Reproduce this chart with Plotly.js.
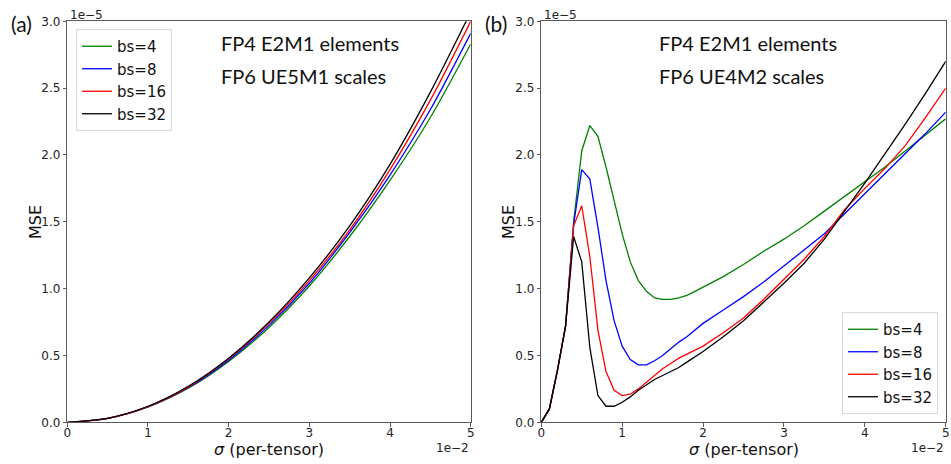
<!DOCTYPE html>
<html><head><meta charset="utf-8">
<script src="https://cdn.plot.ly/plotly-3.0.1.min.js"></script>
<style>html,body{margin:0;padding:0;background:#fff}#chart{width:951px;height:464px}</style>
</head><body><div id="chart"></div>
<script>
// sigma in units of 1e-2, MSE in units of 1e-5
const seriesNames = ['bs=4', 'bs=8', 'bs=16', 'bs=32'];
const seriesColors = ['#008000', '#0000ff', '#ff0000', '#000000'];

// Panel (a): FP6 UE5M1 scales
const sigmaA = [0, 0.5, 1, 1.5, 2, 2.5, 3, 3.5, 4, 4.5, 5];
const mseA_bs4  = [0, 0.03, 0.115, 0.255, 0.455, 0.71, 1.02, 1.39, 1.81, 2.28, 2.83];
const mseA_bs8  = [0, 0.03, 0.116, 0.26, 0.465, 0.725, 1.04, 1.42, 1.85, 2.34, 2.91];
const mseA_bs16 = [0, 0.03, 0.118, 0.265, 0.475, 0.74, 1.06, 1.44, 1.89, 2.41, 3.00];
const mseA_bs32 = [0, 0.03, 0.12, 0.27, 0.48, 0.75, 1.08, 1.47, 1.93, 2.47, 3.07];

// Panel (b): FP6 UE4M2 scales
const sigmaB = [0,0.1,0.2,0.3,0.4,0.5,0.6,0.7,0.8,0.9,1.0,1.1,1.2,1.3,1.4,1.5,1.6,1.7,1.8,1.9,2.0,2.25,2.5,2.75,3.0,3.25,3.5,3.75,4.0,4.25,4.5,4.75,5.0];
const mseB_bs4  = [0,0.10,0.39,0.72,1.50,2.03,2.22,2.14,1.91,1.66,1.41,1.20,1.06,0.98,0.93,0.92,0.92,0.93,0.95,0.98,1.01,1.09,1.18,1.28,1.37,1.47,1.58,1.69,1.80,1.91,2.03,2.15,2.27];
const mseB_bs8  = [0,0.10,0.39,0.72,1.48,1.89,1.82,1.46,1.06,0.76,0.57,0.47,0.43,0.43,0.46,0.50,0.55,0.60,0.64,0.69,0.74,0.84,0.94,1.05,1.17,1.29,1.41,1.56,1.71,1.86,2.01,2.16,2.32];
const mseB_bs16 = [0,0.10,0.39,0.72,1.47,1.62,1.24,0.69,0.38,0.24,0.20,0.21,0.25,0.30,0.35,0.40,0.44,0.48,0.51,0.54,0.57,0.67,0.78,0.92,1.07,1.22,1.39,1.59,1.75,1.90,2.07,2.28,2.50];
const mseB_bs32 = [0,0.10,0.39,0.72,1.39,1.20,0.56,0.20,0.12,0.12,0.15,0.19,0.24,0.28,0.32,0.35,0.38,0.41,0.45,0.49,0.53,0.64,0.76,0.90,1.04,1.19,1.37,1.58,1.79,2.01,2.23,2.46,2.70];

const xTickVals = [0,1,2,3,4,5];
const yTickVals = [0,0.5,1,1.5,2,2.5,3];

const A = [mseA_bs4, mseA_bs8, mseA_bs16, mseA_bs32];
const B = [mseB_bs4, mseB_bs8, mseB_bs16, mseB_bs32];
const traces = [];
A.forEach((ys, i) => traces.push({
  x: sigmaA, y: ys, type: 'scatter', mode: 'lines', name: seriesNames[i],
  line: {color: seriesColors[i], width: 1.3, shape: 'spline', smoothing: 0.8},
  xaxis: 'x', yaxis: 'y', legend: 'legend'
}));
B.forEach((ys, i) => traces.push({
  x: sigmaB, y: ys, type: 'scatter', mode: 'lines', name: seriesNames[i],
  line: {color: seriesColors[i], width: 1.3},
  xaxis: 'x2', yaxis: 'y2', legend: 'legend2'
}));

const FONT = "'DejaVu Sans', sans-serif";
const TXT = "Lato, 'Open Sans', sans-serif";
const yDom = [1 - 422.3/464, 1 - 21.3/464];
function xax(dom, anchor) {
  return {domain: dom, anchor: anchor, range: [0, 5], tickvals: xTickVals, ticktext: xTickVals.map(String),
    showgrid: false, zeroline: false, showline: true, mirror: true, linecolor: '#5a5a5a', linewidth: 1,
    ticks: 'outside', ticklen: 3.5, tickcolor: '#5a5a5a', ticklabelstandoff: -4,
    tickfont: {family: FONT, size: 12, color: '#222'}};
}
function yax(dom, anchor) {
  return {domain: dom, anchor: anchor, range: [0, 3], tickvals: yTickVals, tickformat: '.1f',
    showgrid: false, zeroline: false, showline: true, mirror: true, linecolor: '#5a5a5a', linewidth: 1,
    ticks: 'outside', ticklen: 3.5, tickcolor: '#5a5a5a', tickfont: {family: FONT, size: 12, color: '#222'}};
}
const xa = [67.3/951, 470.7/951], xb = [541.3/951, 945.7/951];
function ann(text, px, py, opts) {
  return Object.assign({text: text, x: px/951, y: 1 - py/464, xref: 'paper', yref: 'paper',
    xanchor: 'center', yanchor: 'middle', showarrow: false}, opts);
}
const layout = {
  width: 951, height: 464, margin: {l: 0, r: 0, t: 0, b: 0},
  paper_bgcolor: '#fff', plot_bgcolor: '#fff', showlegend: true,
  xaxis: xax(xa, 'y'), yaxis: yax(yDom, 'x'),
  xaxis2: xax(xb, 'y2'), yaxis2: yax(yDom, 'x2'),
  legend: {x: 76/951, y: 1 - 29/464, xanchor: 'left', yanchor: 'top', bgcolor: '#fff',
    bordercolor: '#d8d8d8', borderwidth: 1, font: {family: FONT, size: 15, color: '#111'}, tracegroupgap: 0},
  legend2: {x: 938/951, y: 1 - 414/464, xanchor: 'right', yanchor: 'bottom', bgcolor: '#fff',
    bordercolor: '#d8d8d8', borderwidth: 1, font: {family: FONT, size: 15, color: '#111'}, tracegroupgap: 0},
  annotations: [
    ann('(a)', 21, 24, {font: {family: TXT, size: 21, color: '#111'}}),
    ann('(b)', 496, 24, {font: {family: TXT, size: 21, color: '#111'}}),
    ann('FP4 E2M1 elements', 219, 43, {xanchor: 'left', font: {family: TXT, size: 20, color: '#111'}}),
    ann('FP6 UE5M1 scales', 219, 76, {xanchor: 'left', font: {family: TXT, size: 20, color: '#111'}}),
    ann('FP4 E2M1 elements', 657, 43, {xanchor: 'left', font: {family: TXT, size: 20, color: '#111'}}),
    ann('FP6 UE4M2 scales', 657, 76, {xanchor: 'left', font: {family: TXT, size: 20, color: '#111'}}),
    ann('<i>σ</i> (per-tensor)', 269, 449, {font: {family: FONT, size: 16, color: '#111'}}),
    ann('<i>σ</i> (per-tensor)', 743.5, 449, {font: {family: FONT, size: 16, color: '#111'}}),
    ann('MSE', 35, 222, {textangle: -90, font: {family: FONT, size: 16, color: '#111'}}),
    ann('MSE', 508, 222, {textangle: -90, font: {family: FONT, size: 16, color: '#111'}}),
    ann('1e\u22125', 67.5, 15, {xanchor: 'left', font: {family: FONT, size: 12, color: '#222'}}),
    ann('1e\u22125', 541.5, 15, {xanchor: 'left', font: {family: FONT, size: 12, color: '#222'}}),
    ann('1e\u22122', 471, 448, {xanchor: 'right', font: {family: FONT, size: 12, color: '#222'}}),
    ann('1e\u22122', 945.7, 448, {xanchor: 'right', font: {family: FONT, size: 12, color: '#222'}})
  ]
};
Plotly.newPlot('chart', traces, layout, {displayModeBar: false, staticPlot: true});
</script></body></html>
